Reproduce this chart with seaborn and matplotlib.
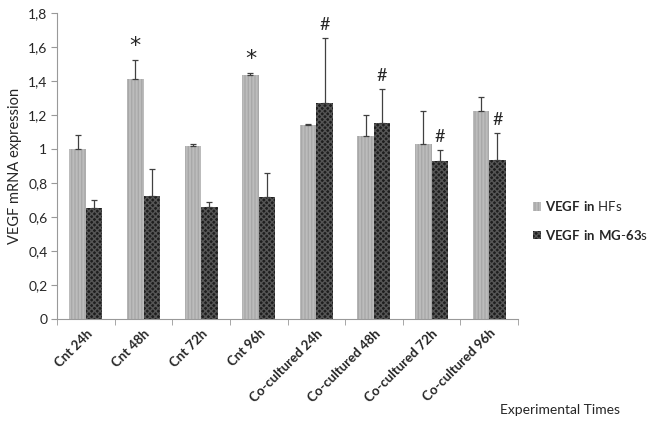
import numpy as np
import pandas as pd
import seaborn as sns
from matplotlib import pyplot as plt

sns.set_style("white")
plt.rcParams['font.family'] = ['Lato', 'DejaVu Sans']
plt.rcParams['mathtext.fontset'] = 'custom'
plt.rcParams['mathtext.rm'] = 'Lato'
plt.rcParams['mathtext.bf'] = 'Lato:bold'

# data
times = ['Cnt 24h', 'Cnt 48h', 'Cnt 72h', 'Cnt 96h',
         'Co-cultured 24h', 'Co-cultured 48h', 'Co-cultured 72h', 'Co-cultured 96h']
hf_mean = [1.0, 1.41, 1.014, 1.433, 1.139, 1.078, 1.03, 1.22]
hf_err = [0.08, 0.11, 0.016, 0.012, 0.008, 0.122, 0.19, 0.085]
mg_mean = [0.65, 0.72, 0.657, 0.718, 1.267, 1.153, 0.93, 0.935]
mg_err = [0.05, 0.16, 0.029, 0.141, 0.382, 0.2, 0.06, 0.155]
hf_label = r'$\bf{VEGF\ in}$ HFs'
mg_label = r'$\bf{VEGF\ in\ MG}$-$\bf{63}$s'
star_idx = [1, 3]
hash_idx = [4, 5, 6, 7]

df = pd.DataFrame({
    'time': times * 2,
    'value': hf_mean + mg_mean,
    'err': hf_err + mg_err,
    'group': [hf_label] * 8 + [mg_label] * 8,
})

fig = plt.figure(figsize=(6.49, 4.24), dpi=100)
ax = fig.add_axes([0.088, 0.248, 0.71, 0.722])

sns.barplot(data=df, x='time', y='value', hue='group',
            palette=['#bcbcbc', '#1e1e1e'], width=0.57, ax=ax,
            errorbar=None, legend=False)

hatches = ['|||||', 'xxxxxx']
hcols = ['#a8a8a8', '#555555']
bars = ax.patches
for k, b in enumerate(bars):
    g = k // 8
    b.set_hatch(hatches[g])
    b.set_edgecolor(hcols[g])
    b.set_linewidth(0)

# one-sided error bars
for k, b in enumerate(bars):
    x = b.get_x() + b.get_width() / 2
    top = b.get_height()
    e = df['err'].iloc[k]
    ax.errorbar(x, top, yerr=[[0], [e]], fmt='none', ecolor='#404040',
                elinewidth=0.9, capsize=2.5, capthick=0.9)

for i in star_idx:
    b = bars[i]
    ax.text(b.get_x() + b.get_width() / 2, hf_mean[i] + hf_err[i] + 0.025, '*',
            ha='center', va='bottom', fontsize=16, family='DejaVu Sans')
for i in hash_idx:
    b = bars[8 + i]
    ax.text(b.get_x() + b.get_width() / 2, mg_mean[i] + mg_err[i] + 0.03, '#',
            ha='center', va='bottom', fontsize=13)

ax.set_ylim(0, 1.8)
ax.set_xlim(-0.5, 7.5)
yt = np.arange(0, 1.81, 0.2)
ax.set_yticks(yt)
ax.set_yticklabels(['0', '0,2', '0,4', '0,6', '0,8', '1', '1,2', '1,4', '1,6', '1,8'],
                   fontsize=10)
ax.set_xticks(range(8))
ax.set_xticklabels(times, rotation=45, ha='right', rotation_mode='anchor',
                   fontsize=9.5, fontweight='bold')
ax.set_xticks(np.arange(-0.5, 8, 1), minor=True)
ax.tick_params(axis='x', which='major', length=0, pad=6)
ax.tick_params(axis='x', which='minor', length=4, color='#999999', direction='out', bottom=True)
ax.tick_params(axis='y', length=4, color='#999999', direction='out', left=True, pad=3)
ax.set_ylabel('VEGF mRNA expression', fontsize=10.5, labelpad=4)
ax.set_xlabel('')
fig.text(0.955, 0.02, 'Experimental Times', ha='right', va='bottom', fontsize=10)

for s in ['top', 'right']:
    ax.spines[s].set_visible(False)
for s in ['left', 'bottom']:
    ax.spines[s].set_color('#999999')
    ax.spines[s].set_linewidth(0.8)

leg = fig.legend(handles=[bars[0], bars[8]], labels=[hf_label, mg_label],
                 loc='center left', bbox_to_anchor=(0.822, 0.48), frameon=False,
                 fontsize=9.5, handlelength=0.6, handleheight=0.6, handletextpad=0.3,
                 labelspacing=1.1, borderpad=0, borderaxespad=0)

fig.savefig('out.png', dpi=100)
